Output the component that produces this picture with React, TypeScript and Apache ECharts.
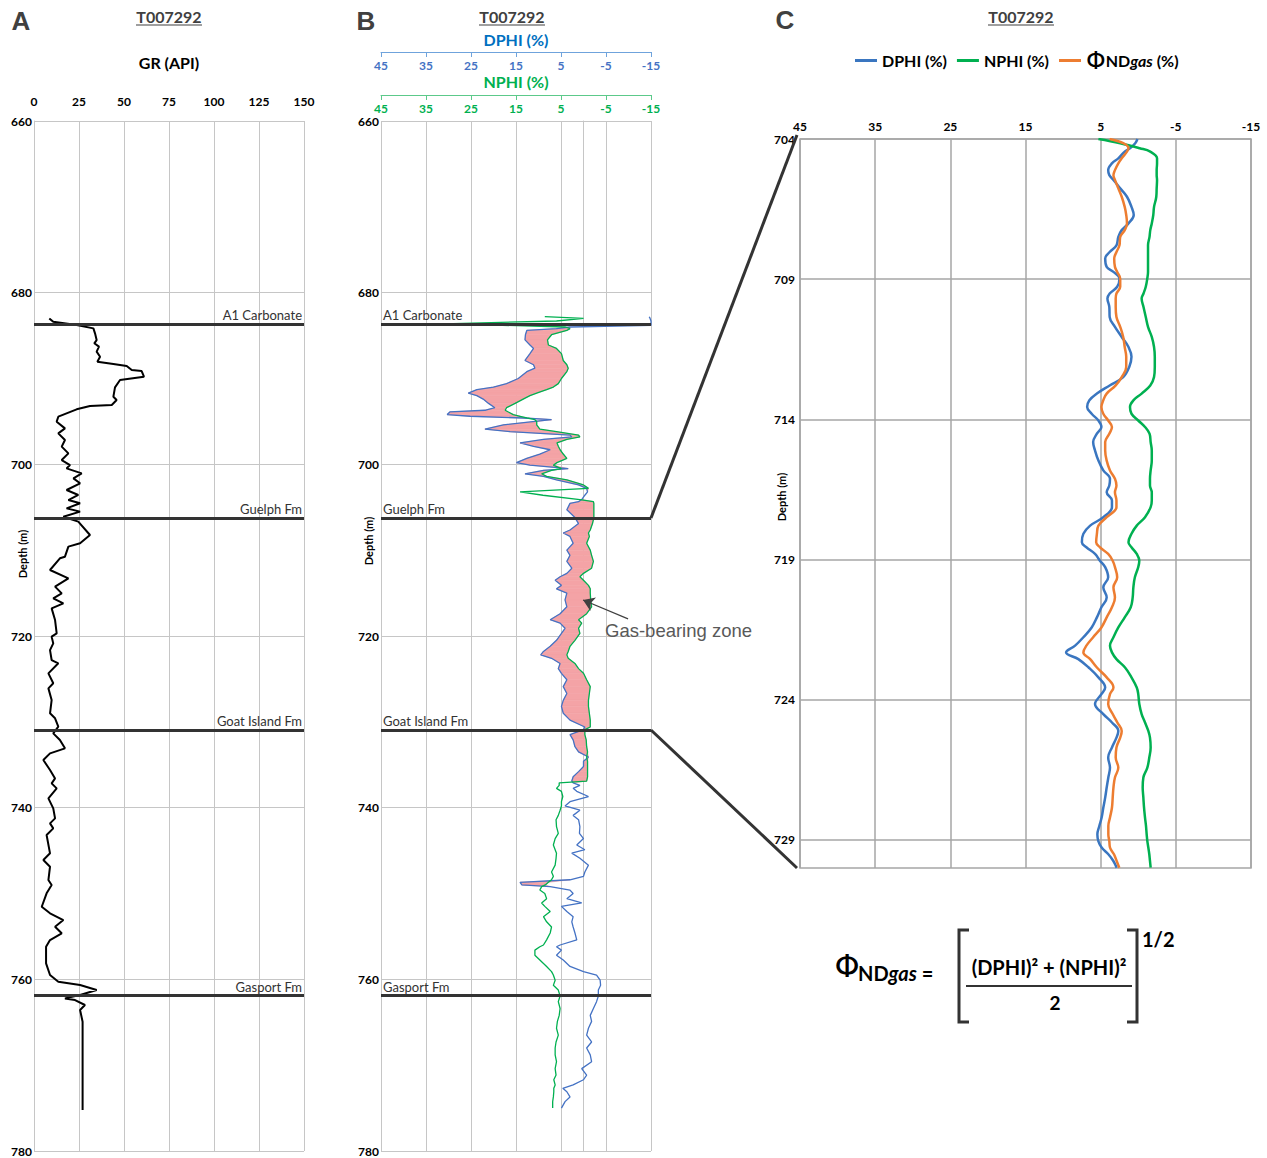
import React, { useEffect, useRef } from 'react';
import * as echarts from 'echarts';

const FONT = 'Lato, "Noto Sans", sans-serif';

// Formation tops (m)
const TOP_NAMES = ['A1 Carbonate', 'Guelph Fm', 'Goat Island Fm', 'Gasport Fm'];
const TOP_DEPTHS = [683.65, 706.25, 730.95, 761.9];

// Panel A: gamma ray
const GR_DEPTH = [683.0, 683.4, 683.77, 684.16, 684.74, 685.52, 685.9, 686.29, 686.87, 687.46, 688.04, 688.31, 688.54, 689.01, 689.13, 689.79, 690.18, 691.03, 692.12, 692.51, 693.09, 693.2, 693.59, 694.45, 695.03, 695.81, 696.39, 697.17, 697.94, 698.72, 699.5, 700.08, 700.47, 701.05, 701.63, 702.21, 702.99, 703.57, 704.16, 704.54, 705.13, 705.51, 706.1, 706.68, 708.23, 709.2, 709.59, 710.76, 710.95, 712.31, 713.28, 714.25, 715.03, 715.61, 716.19, 716.78, 718.14, 719.69, 720.08, 720.86, 721.65, 722.8, 723.18, 724.35, 725.51, 726.1, 727.46, 729.01, 729.59, 730.56, 731.34, 732.12, 733.09, 733.67, 734.45, 735.62, 736.59, 737.17, 737.75, 738.92, 740.08, 741.25, 741.83, 742.41, 743.19, 745.32, 746.1, 746.88, 748.43, 749.01, 749.98, 751.54, 752.31, 753.09, 753.87, 754.64, 755.42, 756.2, 758.14, 759.5, 760.28, 760.66, 761.25, 761.83, 762.22, 762.41, 762.99, 763.57, 764.94, 775.23];
const GR_API = [8.5, 10.7, 23.7, 33.0, 33.9, 34.8, 33.5, 36.1, 34.8, 36.7, 35.2, 44.1, 51.5, 54.3, 59.8, 61.1, 47.8, 45.0, 44.1, 45.9, 43.2, 31.1, 23.7, 13.5, 12.6, 17.2, 13.5, 17.2, 15.4, 19.1, 15.4, 20.0, 18.1, 26.5, 21.9, 25.6, 18.1, 24.6, 19.1, 25.6, 18.1, 25.6, 16.3, 24.6, 31.1, 25.6, 19.1, 17.2, 14.4, 8.9, 19.1, 11.7, 15.4, 10.7, 16.3, 9.8, 11.7, 12.6, 9.8, 10.7, 8.9, 9.8, 13.5, 8.0, 10.7, 8.0, 9.8, 8.9, 11.7, 13.5, 10.7, 14.4, 17.2, 8.9, 5.2, 8.9, 11.7, 9.8, 12.6, 8.0, 10.7, 11.7, 8.9, 10.7, 7.0, 8.9, 5.2, 8.9, 8.0, 9.8, 7.0, 4.3, 8.9, 16.3, 11.7, 15.4, 8.9, 6.7, 6.7, 8.9, 13.5, 25.6, 34.8, 25.6, 17.2, 22.8, 28.3, 25.6, 27.0, 27.0];

// Panel B: density / neutron porosity (%)
const B_DEPTH = [682.8, 683.0, 683.3, 683.6, 683.8, 684.0, 684.2, 684.4, 684.9, 685.5, 686.1, 686.5, 687.1, 687.9, 688.4, 688.8, 689.2, 690.0, 690.6, 691.0, 691.3, 691.7, 692.0, 692.4, 692.9, 693.4, 693.7, 693.9, 694.2, 694.4, 694.6, 694.8, 695.0, 695.4, 695.9, 696.2, 696.6, 696.8, 697.1, 697.5, 697.9, 698.3, 698.8, 699.3, 699.8, 700.1, 700.5, 700.7, 701.1, 701.4, 701.8, 702.4, 702.8, 703.2, 703.6, 704.1, 704.35, 704.55, 705.3, 706.2, 706.9, 707.65, 708.0, 708.4, 709.2, 710.0, 710.6, 711.3, 712.1, 712.7, 713.1, 713.5, 714.1, 714.5, 715.0, 715.8, 716.6, 717.4, 718.1, 718.5, 719.1, 719.7, 720.5, 721.2, 721.8, 722.2, 722.6, 723.2, 723.8, 724.35, 725.1, 725.9, 726.7, 727.5, 728.2, 729.0, 729.8, 730.6, 730.9, 731.5, 732.1, 732.9, 733.5, 734.1, 734.6, 735.2, 735.8, 736.4, 736.9, 737.1, 737.4, 737.75, 738.1, 738.7, 739.3, 739.8, 740.3, 740.9, 741.4, 742.2, 743.0, 743.6, 744.35, 744.9, 745.3, 745.9, 746.7, 747.5, 748.0, 748.4, 748.7, 749.0, 749.2, 749.6, 750.0, 750.6, 751.1, 751.5, 752.1, 752.7, 753.3, 753.9, 754.6, 755.4, 756.0, 756.2, 756.6, 757.2, 757.75, 758.5, 759.1, 759.5, 760.1, 760.7, 761.25, 761.95, 762.6, 763.4, 764.2, 764.9, 765.7, 766.5, 767.3, 768.0, 768.8, 769.6, 770.4, 771.15, 771.7, 772.3, 772.7, 773.1, 773.7, 774.25, 775.0];
const B_DPHI = [-14.6, -14.8, -15.0, -15.0, -15.0, 3.0, 6.0, 12.6, 12.9, 13.0, 11.9, 11.1, 11.9, 13.0, 11.1, 10.8, 12.6, 14.5, 17.1, 20.0, 23.7, 25.6, 23.7, 22.3, 21.1, 19.7, 21.9, 29.7, 30.3, 25.2, 13.4, 7.1, 10.8, 17.8, 21.9, 16.3, 3.0, 2.6, 8.9, 14.1, 11.1, 7.4, 9.7, 12.6, 14.9, 11.9, 3.4, 8.9, 13.0, 8.9, 6.0, 1.1, -0.7, -0.9, -0.3, 0.4, 1.1, 3.0, 3.7, 1.9, 1.1, 3.0, 4.5, 3.0, 2.3, 3.7, 3.0, 3.7, 2.6, 3.7, 5.2, 6.3, 4.9, 6.0, 3.7, 4.1, 3.7, 5.2, 7.4, 5.2, 4.1, 4.9, 6.0, 7.4, 8.9, 9.5, 7.1, 5.2, 5.6, 4.9, 3.7, 4.5, 3.7, 4.5, 4.9, 4.5, 3.0, -0.3, 0.0, 3.0, 2.3, 1.9, 1.1, -1.1, 0.0, 0.0, 1.1, 2.3, 2.6, 2.3, 0.8, 2.3, 1.5, -1.1, 3.0, 4.1, 0.8, 2.3, 1.1, 0.8, 0.9, 0.0, 1.5, -0.3, 2.6, 0.8, -1.1, -0.3, 0.0, 3.0, 14.1, 13.7, 7.4, 3.0, 2.3, 3.7, 0.4, 4.9, 3.7, 2.3, 2.6, 2.3, 1.9, 1.5, 5.2, 6.0, 4.9, 6.0, 4.5, 3.0, 0.0, -2.9, -3.7, -3.8, -3.3, -3.3, -2.9, -2.2, -1.5, -1.8, -1.1, -0.7, -1.8, -0.7, -1.5, -1.8, 0.4, -0.7, 0.0, 2.3, 4.6, 3.7, 3.0, 4.1, 4.9];
const B_NPHI = [8.6, 0.0, 6.0, 28.9, 18.0, 4.0, 3.0, 3.7, 7.1, 8.0, 7.8, 6.0, 4.9, 4.5, 3.7, 3.4, 3.7, 4.9, 5.6, 6.7, 8.2, 10.4, 11.9, 13.4, 15.2, 17.1, 17.4, 16.7, 15.6, 14.1, 12.6, 10.8, 10.4, 10.4, 9.7, 6.0, 1.1, 0.8, 3.7, 5.9, 5.6, 5.2, 4.5, 3.7, 5.9, 6.7, 4.9, 7.1, 9.3, 8.2, 3.7, 0.0, -1.1, 14.1, 9.0, 0.8, -2.2, -2.3, -2.3, -2.3, -2.0, -1.5, -1.1, -1.3, -0.7, -1.5, -1.8, -2.2, -1.8, 0.0, 0.8, 0.0, -1.1, -1.5, -1.5, -1.6, -1.8, -0.7, 1.1, 0.4, 1.1, 0.8, 1.9, 3.0, 3.4, 3.7, 3.4, 1.9, 1.1, 0.0, -0.7, -1.5, -1.3, -1.1, -1.1, -1.3, -1.5, -1.5, -0.3, -0.3, -0.6, -0.7, -0.9, -0.7, -0.9, -0.9, -0.9, -0.9, -0.7, 5.4, 5.4, 6.0, 4.9, 4.6, 4.9, 4.9, 5.2, 5.6, 6.1, 6.0, 5.6, 6.3, 6.7, 6.3, 6.0, 6.1, 6.3, 7.1, 6.7, 7.1, 7.8, 8.5, 9.3, 9.7, 8.6, 8.2, 9.3, 8.6, 7.4, 8.9, 8.2, 7.1, 7.4, 8.2, 8.9, 9.7, 10.8, 10.8, 9.7, 8.2, 7.1, 6.7, 6.3, 6.7, 5.6, 5.2, 5.6, 5.2, 5.4, 5.8, 6.0, 5.6, 6.1, 6.3, 6.3, 6.0, 6.3, 6.1, 6.6, 6.3, 6.6, 6.6, 6.7, 6.85, 6.85];

// Porosity axis ticks (%)
const POR_TICKS = [45, 35, 25, 15, 5, -5, -15];

// Panel C: zoom 704-730 m
const C_DEPTH_TICKS = [704, 709, 714, 719, 724, 729];
const C_DEPTH = [704.0, 704.15, 704.33, 704.45, 704.69, 704.87, 705.11, 705.29, 705.46, 705.76, 706.06, 706.42, 706.71, 707.01, 707.25, 707.49, 707.79, 708.03, 708.26, 708.56, 708.74, 708.98, 709.27, 709.51, 709.69, 709.99, 710.35, 710.7, 711.06, 711.42, 711.77, 712.13, 712.49, 712.79, 713.08, 713.32, 713.56, 713.8, 714.04, 714.27, 714.51, 714.81, 715.11, 715.47, 715.82, 716.12, 716.36, 716.6, 716.89, 717.13, 717.49, 717.79, 718.08, 718.38, 718.56, 718.8, 719.04, 719.27, 719.63, 719.99, 720.35, 720.7, 721.06, 721.42, 721.77, 722.07, 722.31, 722.55, 722.85, 723.2, 723.56, 723.8, 724.15, 724.51, 724.81, 725.11, 725.35, 725.7, 726.06, 726.42, 726.77, 727.13, 727.49, 727.85, 728.2, 728.5, 728.8, 729.04, 729.27, 729.51, 729.75, 729.99];
const C_DPHI = [0.1, 0.4, 1.1, 1.8, 2.65, 3.5, 4.0, 3.85, 3.3, 2.4, 1.5, 0.9, 0.6, 1.3, 2.2, 2.65, 2.9, 3.8, 4.4, 4.2, 3.3, 2.5, 2.8, 3.8, 4.1, 3.85, 3.8, 3.1, 2.2, 1.3, 0.9, 1.2, 2.0, 3.8, 5.5, 6.5, 6.8, 6.2, 5.3, 4.9, 5.5, 6.0, 5.75, 5.3, 4.65, 3.76, 3.85, 4.2, 3.5, 3.5, 4.65, 6.4, 7.3, 7.5, 6.9, 5.75, 5.1, 4.4, 4.0, 4.65, 4.2, 4.9, 5.5, 6.2, 7.3, 8.4, 9.6, 7.97, 6.6, 5.3, 4.4, 4.9, 5.75, 4.65, 3.5, 2.65, 2.9, 3.5, 4.0, 3.76, 3.98, 4.2, 4.4, 4.65, 4.87, 5.18, 5.44, 5.31, 4.87, 3.98, 3.31, 2.87];
const C_NPHI = [5.3, 2.4, -0.2, -1.6, -2.5, -2.5, -2.45, -2.45, -2.5, -2.45, -2.4, -2.1, -2.0, -1.8, -1.6, -1.5, -1.3, -1.3, -1.3, -1.3, -1.3, -1.2, -1.0, -0.7, -0.45, -0.7, -1.0, -1.3, -1.8, -2.1, -2.2, -2.2, -2.1, -1.6, -0.45, 0.65, 1.1, 0.9, 0.0, -0.9, -1.5, -1.65, -1.8, -1.8, -1.65, -1.56, -1.56, -1.8, -1.8, -1.65, -0.9, 0.2, 0.9, 1.3, 0.9, 0.2, -0.14, 0.0, 0.45, 0.65, 0.74, 1.0, 1.8, 2.65, 3.3, 3.76, 3.5, 2.9, 1.76, 0.9, 0.2, 0.0, -0.14, -0.45, -0.9, -1.34, -1.56, -1.65, -1.47, -1.21, -0.68, -0.59, -0.68, -0.77, -0.9, -1.03, -1.12, -1.21, -1.34, -1.47, -1.56, -1.65];
const C_PHIGAS = [3.8, 2.0, 1.3, 1.5, 2.2, 2.65, 3.1, 3.3, 3.1, 2.65, 2.2, 1.8, 1.6, 1.5, 1.8, 2.4, 2.5, 2.9, 3.2, 3.1, 2.8, 2.4, 2.4, 2.9, 3.0, 3.0, 2.9, 2.4, 2.0, 1.8, 1.6, 1.6, 2.2, 3.0, 4.2, 4.65, 4.9, 4.65, 4.0, 3.5, 3.85, 4.4, 4.4, 4.2, 3.76, 3.1, 2.9, 3.1, 2.9, 2.9, 4.2, 5.3, 5.5, 5.6, 5.1, 4.0, 3.4, 3.1, 2.8, 3.3, 3.1, 3.5, 4.2, 4.9, 6.0, 6.9, 7.3, 6.4, 5.5, 4.2, 3.3, 3.76, 4.0, 3.4, 2.78, 2.2, 2.4, 2.9, 3.0, 2.65, 3.1, 3.3, 3.4, 3.5, 3.76, 3.98, 3.98, 3.85, 3.76, 3.23, 2.87, 2.52];

// Gas-bearing zone annotation arrow (DPHI %, depth m)
const ARROW_FROM = [-9.9, 718.0];
const ARROW_TO = [0.1, 715.8];

const PHI_NAME = 'ΦNDgas (%)';
const PINK = '#f4a3a6';
const BLUE_B = '#4472c4';
const GREEN = '#00b050';
const BLUE_C = '#3a76c0';
const ORANGE = '#ed7d31';
const GRID_GRAY = '#c6c6c6';
const GRID_GRAY_C = '#a6a6a6';
const DARK = '#333333';

const pairs = (xs: number[], ys: number[]) => ys.map((y, i) => [xs[i], y]);

function buildOption(): any {
  const labelBold = { color: '#000', fontWeight: 'bold', fontSize: 12, fontFamily: FONT };
  const depthAxis = (gridIndex: number) => ({
    gridIndex, type: 'value', min: 660, max: 780, interval: 20, inverse: true,
    axisLine: { show: true, lineStyle: { color: GRID_GRAY } },
    axisTick: { show: false },
    axisLabel: { ...labelBold, margin: 2 },
    splitLine: { show: true, lineStyle: { color: GRID_GRAY, width: 1 } },
  });
  const porAxis = (offset: number, lineColor: string, labelColor: string, split: boolean) => ({
    gridIndex: 1, type: 'value', min: -15, max: 45, inverse: true, position: 'top', offset,
    axisLine: { show: true, lineStyle: { color: lineColor, width: 1 } },
    axisTick: { show: true, inside: true, length: 5, lineStyle: { color: lineColor }, customValues: POR_TICKS },
    axisLabel: { inside: true, margin: 7, color: labelColor, fontWeight: 'bold', fontSize: 12, fontFamily: FONT, customValues: POR_TICKS },
    splitLine: { show: split, lineStyle: { color: GRID_GRAY, width: 1 } },
  });
  // insideEndTop: right end on the normal GR axis, left end on the inverted porosity axis
  const topsLine = () => ({
    silent: true,
    symbol: ['none', 'none'],
    lineStyle: { color: DARK, width: 3, type: 'solid' },
    label: { show: true, position: 'insideEndTop', formatter: '{b}', color: DARK, fontSize: 13, fontFamily: FONT, distance: 2 },
    emphasis: { disabled: true },
    data: TOP_DEPTHS.map((d, i) => ({ yAxis: d, name: TOP_NAMES[i] })),
  });

  return {
    animation: false,
    textStyle: { fontFamily: FONT },
    grid: [
      { left: 34, top: 121, width: 270, height: 1030 },
      { left: 381, top: 121, width: 270, height: 1030 },
      { left: 800, top: 139, width: 451, height: 729, show: true, borderColor: GRID_GRAY_C, borderWidth: 1.5 },
    ],
    legend: {
      left: 850, top: 43, icon: 'rect', itemWidth: 22, itemHeight: 3, itemGap: 10, selectedMode: false,
      data: ['DPHI (%)', 'NPHI (%)', PHI_NAME],
      formatter: (name: string) => name === PHI_NAME ? '{phi|Φ}{b|ND}{bi|gas}{b| (%)}' : '{b|' + name + '}',
      textStyle: {
        rich: {
          b: { fontSize: 16, fontWeight: 'bold', color: '#000', fontFamily: FONT },
          bi: { fontSize: 16, fontWeight: 'bold', fontStyle: 'italic', color: '#000', fontFamily: FONT },
          phi: { fontSize: 25, color: '#000', fontFamily: '"DejaVu Sans", sans-serif' },
        },
      },
    },
    xAxis: [
      {
        gridIndex: 0, type: 'value', min: 0, max: 150, interval: 25, position: 'top',
        axisLine: { show: false }, axisTick: { show: false },
        axisLabel: { ...labelBold, margin: 14 },
        splitLine: { show: true, lineStyle: { color: GRID_GRAY, width: 1 } },
      },
      porAxis(69, '#6fa3dc', BLUE_B, false),
      porAxis(26, '#5cc98a', GREEN, true),
      {
        gridIndex: 2, type: 'value', min: -15, max: 45, inverse: true, position: 'top',
        axisLine: { show: false },
        axisTick: { show: false, customValues: POR_TICKS },
        axisLabel: { ...labelBold, margin: 7, customValues: POR_TICKS },
        splitLine: { show: true, lineStyle: { color: GRID_GRAY_C, width: 1.5 } },
      },
    ],
    yAxis: [
      depthAxis(0),
      depthAxis(1),
      {
        gridIndex: 2, type: 'value', min: 704, max: 730, inverse: true,
        axisLine: { show: false },
        axisTick: { show: false, customValues: C_DEPTH_TICKS },
        axisLabel: { ...labelBold, margin: 5, customValues: C_DEPTH_TICKS },
        splitLine: { show: true, lineStyle: { color: GRID_GRAY_C, width: 1.5 } },
      },
    ],
    series: [
      {
        name: 'GR', type: 'line', xAxisIndex: 0, yAxisIndex: 0, data: pairs(GR_API, GR_DEPTH),
        showSymbol: false, lineStyle: { color: '#000', width: 2 }, itemStyle: { color: '#000' }, z: 2,
        markLine: topsLine(),
      },
      {
        name: 'gasFill', type: 'custom', xAxisIndex: 1, yAxisIndex: 1, z: 1, silent: true,
        data: pairs(B_DPHI, B_DEPTH),
        encode: { x: 0, y: 1 },
        renderItem: (params: any, api: any) => {
          const i = params.dataIndex;
          if (i >= B_DEPTH.length - 1) return null;
          const d0 = B_DPHI[i], d1 = B_DPHI[i + 1], n0 = B_NPHI[i], n1 = B_NPHI[i + 1];
          if (d0 <= n0 && d1 <= n1) return null;
          const m0 = Math.min(d0, n0), m1 = Math.min(d1, n1);
          const pts = [
            api.coord([d0, B_DEPTH[i]]), api.coord([d1, B_DEPTH[i + 1]]),
            api.coord([m1, B_DEPTH[i + 1]]), api.coord([m0, B_DEPTH[i]]),
          ];
          return { type: 'polygon', shape: { points: pts }, style: { fill: PINK, stroke: PINK, lineWidth: 0.6 } };
        },
      },
      {
        name: 'DPHI log', type: 'line', xAxisIndex: 1, yAxisIndex: 1, data: pairs(B_DPHI, B_DEPTH),
        showSymbol: false, lineStyle: { color: BLUE_B, width: 1.3 }, itemStyle: { color: BLUE_B }, z: 3,
        markLine: {
          silent: true, symbol: ['none', 'arrow'], symbolSize: 11,
          lineStyle: { color: '#404040', width: 1.2, type: 'solid' },
          label: { show: false }, emphasis: { disabled: true },
          data: [[{ coord: ARROW_FROM }, { coord: ARROW_TO }]],
        },
      },
      {
        name: 'NPHI log', type: 'line', xAxisIndex: 2, yAxisIndex: 1, data: pairs(B_NPHI, B_DEPTH),
        showSymbol: false, lineStyle: { color: GREEN, width: 1.3 }, itemStyle: { color: GREEN }, z: 3,
        markLine: topsLine(),
      },
      {
        name: 'DPHI (%)', type: 'line', xAxisIndex: 3, yAxisIndex: 2, data: pairs(C_DPHI, C_DEPTH),
        showSymbol: false, smooth: 0.4, lineStyle: { color: BLUE_C, width: 2.5 }, itemStyle: { color: BLUE_C }, z: 3,
      },
      {
        name: 'NPHI (%)', type: 'line', xAxisIndex: 3, yAxisIndex: 2, data: pairs(C_NPHI, C_DEPTH),
        showSymbol: false, smooth: 0.4, lineStyle: { color: GREEN, width: 2.5 }, itemStyle: { color: GREEN }, z: 3,
      },
      {
        name: PHI_NAME, type: 'line', xAxisIndex: 3, yAxisIndex: 2, data: pairs(C_PHIGAS, C_DEPTH),
        showSymbol: false, smooth: 0.4, lineStyle: { color: ORANGE, width: 2.5 }, itemStyle: { color: ORANGE }, z: 3,
      },
    ],
  };
}

function txt(id: string, x: number, y: number, text: string, style: any = {}, rotation = 0) {
  return {
    type: 'text', id, x, y, rotation, silent: true, z: 20,
    style: { text, fontFamily: FONT, fontSize: 12, fontWeight: 'bold', fill: '#000', align: 'center', verticalAlign: 'middle', ...style },
  };
}
function seg(id: string, x1: number, y1: number, x2: number, y2: number, w: number, color = DARK) {
  return { type: 'line', id, silent: true, z: 20, shape: { x1, y1, x2, y2 }, style: { stroke: color, lineWidth: w } };
}

function staticGraphics(): any[] {
  const letter = { fontSize: 26, fontFamily: '"Liberation Sans", Arial, sans-serif', fill: '#404040' };
  const well = { fontSize: 16, fill: '#404040' };
  const g: any[] = [
    txt('lA', 21, 21, 'A', letter), txt('lB', 366, 21, 'B', letter), txt('lC', 785, 20, 'C', letter),
    txt('wA', 169, 16, 'T007292', well), seg('uA', 136, 25, 202, 25, 1.2, '#404040'),
    txt('wB', 512, 16, 'T007292', well), seg('uB', 479, 25, 545, 25, 1.2, '#404040'),
    txt('wC', 1021, 16, 'T007292', well), seg('uC', 988, 25, 1054, 25, 1.2, '#404040'),
    txt('grT', 169, 62, 'GR (API)', { fontSize: 16 }),
    txt('dphiT', 516, 39, 'DPHI (%)', { fontSize: 16, fill: '#0070c0' }),
    txt('nphiT', 516, 81, 'NPHI (%)', { fontSize: 16, fill: GREEN }),
    txt('dA', 22, 554, 'Depth (m)', { fontSize: 11 }, Math.PI / 2),
    txt('dB', 368, 541, 'Depth (m)', { fontSize: 11 }, Math.PI / 2),
    txt('dC', 781, 497, 'Depth (m)', { fontSize: 11 }, Math.PI / 2),
    txt('gas', 605, 630, 'Gas-bearing zone', { fontSize: 18.5, fontWeight: 'normal', fontFamily: '"Liberation Sans", Arial, sans-serif', fill: '#595959', align: 'left' }),
    // formula
    txt('fPhi', 847, 966, 'Φ', { fontSize: 32, fontWeight: 'normal', fontFamily: '"DejaVu Sans", sans-serif' }),
    {
      type: 'text', id: 'fNd', x: 858, y: 973, silent: true, z: 20,
      style: {
        text: '{a|ND}{b|gas}{a| =}', align: 'left', verticalAlign: 'middle',
        rich: {
          a: { fontSize: 20, fontWeight: 'bold', fontFamily: FONT, fill: '#000' },
          b: { fontSize: 20, fontWeight: 'bold', fontStyle: 'italic', fontFamily: FONT, fill: '#000' },
        },
      },
    },
    {
      type: 'polyline', id: 'brL', silent: true, z: 20,
      shape: { points: [[969, 930], [959, 930], [959, 1022], [969, 1022]] }, style: { stroke: DARK, lineWidth: 3, fill: 'none' },
    },
    {
      type: 'polyline', id: 'brR', silent: true, z: 20,
      shape: { points: [[1127, 930], [1137, 930], [1137, 1022], [1127, 1022]] }, style: { stroke: DARK, lineWidth: 3, fill: 'none' },
    },
    txt('fNum', 1049, 967, '(DPHI)² + (NPHI)²', { fontSize: 20 }),
    seg('fBar', 966, 986, 1132, 986, 2),
    txt('fDen', 1055, 1002, '2', { fontSize: 19 }),
    txt('fExp', 1142, 939, '1/2', { fontSize: 20, align: 'left' }),
  ];
  return g;
}

export default function App() {
  const ref = useRef<HTMLDivElement>(null);
  useEffect(() => {
    document.body.style.margin = '0';
    const chart = echarts.init(ref.current as HTMLDivElement, null, { renderer: 'svg' });
    chart.setOption(buildOption());
    const pG = chart.convertToPixel({ seriesIndex: 2 }, [-15, TOP_DEPTHS[1]]) as number[];
    const pGI = chart.convertToPixel({ seriesIndex: 2 }, [-15, TOP_DEPTHS[2]]) as number[];
    const cTop = chart.convertToPixel({ seriesIndex: 4 }, [45, 704]) as number[];
    const cBot = chart.convertToPixel({ seriesIndex: 4 }, [45, 730]) as number[];
    const graphics = staticGraphics();
    graphics.push(seg('conTop', pG[0], pG[1], cTop[0] - 3, cTop[1] - 4, 3));
    graphics.push(seg('conBot', pGI[0], pGI[1], cBot[0] - 3, cBot[1], 3));
    chart.setOption({ graphic: graphics });
    return () => chart.dispose();
  }, []);
  return <div ref={ref} style={{ width: 1267, height: 1158 }} />;
}
